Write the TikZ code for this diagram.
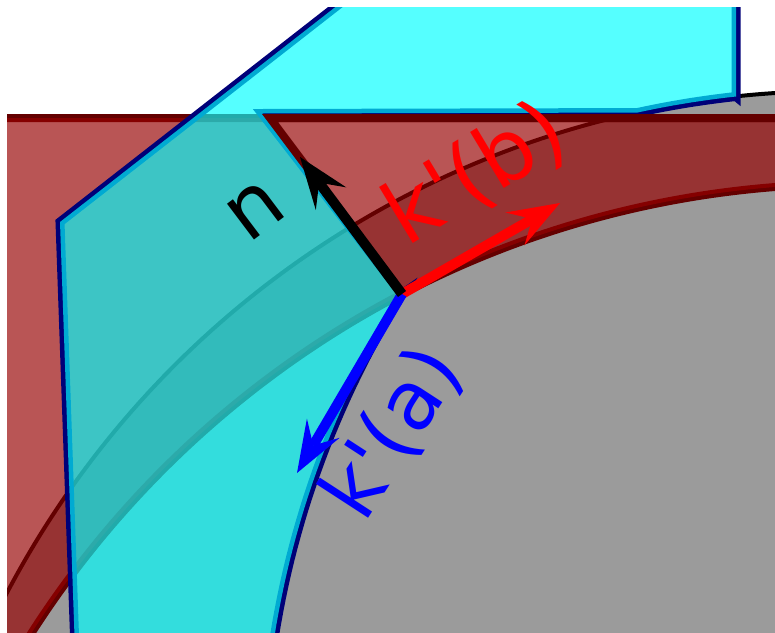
\documentclass[tikz,border=0pt]{standalone}
\usepackage{fontspec}
\newfontfamily\lblfont{DejaVu Sans}[Ligatures=TeXOff]
\usetikzlibrary{arrows.meta}
\definecolor{diskgray}{RGB}{155,155,155}
\definecolor{setbred}{RGB}{150,0,0}
\definecolor{setbline}{RGB}{100,0,0}
\definecolor{setacyan}{RGB}{0,255,255}
\definecolor{setaline}{RGB}{0,0,120}

\begin{document}
\begin{tikzpicture}[x=1pt,y=-1pt,
    vec/.style={line width=10pt,
      -{Stealth[length=52pt,width=38pt,inset=20pt,line width=0pt]}},
    lbl/.style={font=\lblfont\fontsize{#1}{96}\selectfont,inner sep=0pt},
    lbl/.default=82]
  \useasboundingbox (0,0) rectangle (775,632);
  \clip (7,7) rectangle (775,632);
  % Gray disc (obstacle)
  \draw[line width=4pt,fill=diskgray] (837,1028) circle[radius=937pt];
  % Set b -- red, everything above the lower circle
  \draw[setbline,line width=8pt] (-20,118) rectangle (800,700)
    (852,1158) circle[radius=974pt];
  \fill[setbred,fill opacity=.667,even odd rule] (-20,118) rectangle (800,700)
    (852,1158) circle[radius=974pt];
  % Set a -- cyan polygon, cut by the disc and the normal line
  \coordinate (P) at (402,294);
  \def\setapath{(60,222) -- (370,-20) -- (736,-20) -- (736,96.5)
    -- plot[domain=-96.19:-102.3,samples=12] ({837+937*cos(\x)},{1028+937*sin(\x)})
    -- (262,113.5) -- (P)
    -- plot[domain=-148.1:-171.83,samples=30] ({1185+922*cos(\x)},{781+922*sin(\x)})
    -- (75,650) -- cycle}
  \draw[setaline,line width=9pt] \setapath;
  \fill[setacyan,fill opacity=.667] \setapath;
  % edge of b on top of a
  \draw[setbline,line width=8pt] (P) -- (270,118) -- (800,118);
  % Vectors at the corner
  \coordinate (kbtip) at (560,203);
  \coordinate (katip) at (297,473);
  \coordinate (ntip) at (300,157);
  \draw[vec,red] (P) -- (kbtip);
  \draw[vec,blue] (P) -- (katip);
  \draw[vec,black] (P) -- (ntip);
  % Labels
  \node[lbl,rotate=37] (nlab) at (255,211) {n};
  \node[lbl=86,text=red,rotate=31] (kblab) at (476,174) {k'(b)};
  \node[lbl,text=blue,rotate=57] (kalab) at (393,433) {k'(a)};
\end{tikzpicture}
\end{document}
